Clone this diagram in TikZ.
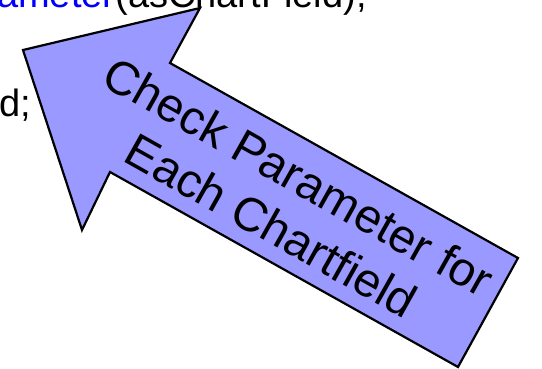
\documentclass[tikz,border=0pt]{standalone}
\usepackage{fontspec}
\setmainfont{Liberation Sans}
\definecolor{arrowfill}{RGB}{153,153,255}
\definecolor{codeblue}{RGB}{0,0,255}
\begin{document}
\begin{tikzpicture}[x=1pt,y=-1pt,
  codetext/.style={inner sep=0pt,font=\fontsize{38}{43}\selectfont},
  bigarrow/.style={draw=black,fill=arrowfill,line width=2.2pt,line join=miter},
  arrowlabel/.style={inner sep=0pt,align=center,font=\fontsize{47.5}{56}\selectfont,rotate=-29.3}]
\path[use as bounding box] (0,0) rectangle (542,369);
\clip (0,0) rectangle (542,369);
\node[codetext,anchor=base west] (code1) at (-3,7.5) {\textcolor{codeblue}{ameter}(asChartField);};
\node[codetext,anchor=base west] (code2) at (-1,117) {d;};
\coordinate (A) at (23,50);
\coordinate (H1) at (200,8);
\coordinate (N1) at (170,63);
\coordinate (S1) at (518,258);
\coordinate (S2) at (458,367);
\coordinate (N2) at (110,172);
\coordinate (H2) at (82,230);
\draw[bigarrow] (A) -- (H1) -- (N1) -- (S1) -- (S2) -- (N2) -- (H2) -- cycle;
\node[arrowlabel] (label) at (285,201) {Check Parameter for\\Each Chartfield};
\end{tikzpicture}
\end{document}
